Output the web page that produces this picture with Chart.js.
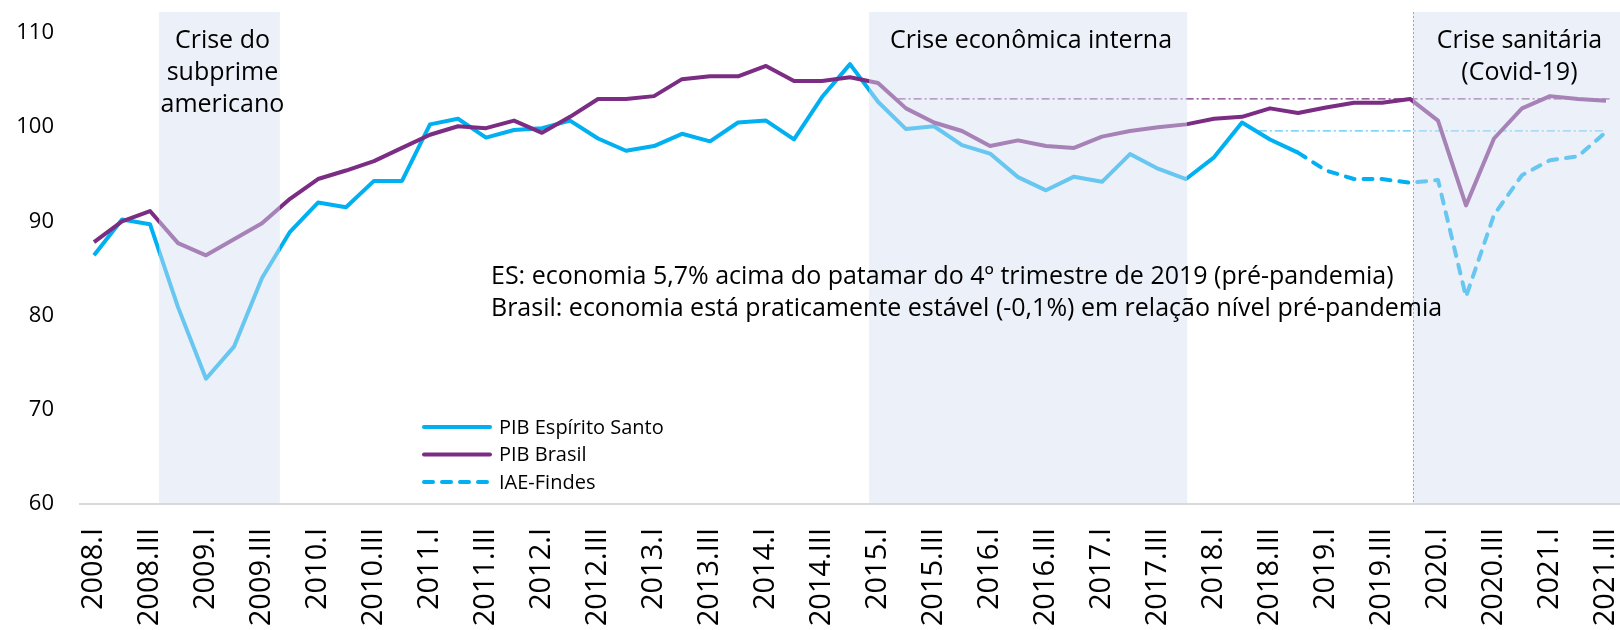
<!DOCTYPE html>
<html><head><meta charset="utf-8">
<script src="https://cdn.jsdelivr.net/npm/chart.js@4"></script>
<style>html,body{margin:0;padding:0;background:#fff;}canvas{display:block;}</style>
</head><body>
<canvas id="c" width="1620" height="630"></canvas>
<script>
const categories = [
 '2008.I','2008.II','2008.III','2008.IV','2009.I','2009.II','2009.III','2009.IV',
 '2010.I','2010.II','2010.III','2010.IV','2011.I','2011.II','2011.III','2011.IV',
 '2012.I','2012.II','2012.III','2012.IV','2013.I','2013.II','2013.III','2013.IV',
 '2014.I','2014.II','2014.III','2014.IV','2015.I','2015.II','2015.III','2015.IV',
 '2016.I','2016.II','2016.III','2016.IV','2017.I','2017.II','2017.III','2017.IV',
 '2018.I','2018.II','2018.III','2018.IV','2019.I','2019.II','2019.III','2019.IV',
 '2020.I','2020.II','2020.III','2020.IV','2021.I','2021.II','2021.III'
];
const pibBrasil = [87.8,90.0,91.1,87.7,86.4,88.1,89.8,92.4,94.5,95.4,
 96.4,97.8,99.2,100.1,99.9,100.7,99.4,101.1,103.0,103.0,
 103.3,105.1,105.4,105.4,106.5,104.9,104.9,105.3,104.7,102.0,
 100.5,99.6,98.0,98.6,98.0,97.8,99.0,99.6,100.0,100.3,
 100.9,101.1,102.0,101.5,102.1,102.6,102.6,103.0,100.7,91.7,
 98.8,102.0,103.3,103.0,102.8];
const pibES = [86.4,90.2,89.7,80.9,73.3,76.7,84.0,88.9,92.0,91.5,
 94.3,94.3,100.3,100.9,98.9,99.7,99.9,100.7,98.8,97.5,
 98.0,99.3,98.5,100.5,100.7,98.7,103.2,106.7,102.7,99.8,
 100.1,98.1,97.2,94.7,93.3,94.75,94.2,97.15,95.6,94.5,
 96.8,100.5,98.7,97.3,null,null,null,null,null,null,
 null,null,null,null,null];
const iaeFindes = [null,null,null,null,null,null,null,null,null,null,
 null,null,null,null,null,null,null,null,null,null,
 null,null,null,null,null,null,null,null,null,null,
 null,null,null,null,null,null,null,null,null,null,
 null,null,null,97.3,95.4,94.5,94.5,94.1,94.4,82.0,
 90.7,94.9,96.5,96.9,99.5];
const yTicks = [60,70,80,90,100,110];
const crisisBands = [
  {from:2.32, to:6.64, label:['Crise do','subprime','americano']},
  {from:27.68, to:39.04, label:['Crise econômica interna']},
  {from:47.1, to:54.5, label:['Crise sanitária','(Covid-19)']}
];
const refBrasil = {value:103.0, from:28.7, to:54.2};
const refES = {value:99.6, from:41.6, to:54.0};
const pandemicMark = 47.1;
const noteLines = [
  'ES: economia 5,7% acima do patamar do 4º trimestre de 2019 (pré-pandemia)',
  'Brasil: economia está praticamente estável (-0,1%) em relação nível pré-pandemia'
];

const CYAN = '#00B0F0', PURPLE = '#7B2C83';
const FONT = "'Open Sans', sans-serif";
Chart.defaults.font.family = FONT;
Chart.defaults.color = '#000';

const overlayPlugin = {
  id: 'overlay',
  beforeDatasetsDraw(chart) {
    const {ctx, scales:{x, y}} = chart;
    ctx.save();
    ctx.lineWidth = 1.3;
    ctx.setLineDash([8,3,2,3]);
    ctx.strokeStyle = PURPLE;
    let yy = y.getPixelForValue(refBrasil.value);
    ctx.beginPath(); ctx.moveTo(x.getPixelForValue(refBrasil.from), yy); ctx.lineTo(x.getPixelForValue(refBrasil.to), yy); ctx.stroke();
    ctx.strokeStyle = '#55C6F2';
    yy = y.getPixelForValue(refES.value);
    ctx.beginPath(); ctx.moveTo(x.getPixelForValue(refES.from), yy); ctx.lineTo(x.getPixelForValue(refES.to), yy); ctx.stroke();
    ctx.restore();
  },
  afterDatasetsDraw(chart) {
    const {ctx, chartArea:ca, scales:{x, y}} = chart;
    ctx.save();
    ctx.fillStyle = 'rgba(215,224,240,0.48)';
    crisisBands.forEach(b => {
      const x0 = x.getPixelForValue(b.from), x1 = x.getPixelForValue(b.to);
      ctx.fillRect(x0, ca.top, x1 - x0, ca.bottom - 1 - ca.top);
    });
    ctx.strokeStyle = '#A6A6A6'; ctx.lineWidth = 1; ctx.setLineDash([2,2]);
    const px = Math.round(x.getPixelForValue(pandemicMark)) + 0.5;
    ctx.beginPath(); ctx.moveTo(px, ca.top); ctx.lineTo(px, ca.bottom - 1); ctx.stroke();
    ctx.setLineDash([]);
    ctx.fillStyle = '#000';
    ctx.font = '25px ' + FONT;
    ctx.textAlign = 'center'; ctx.textBaseline = 'alphabetic';
    crisisBands.forEach(b => {
      const cx = (x.getPixelForValue(b.from) + x.getPixelForValue(b.to)) / 2 + 3;
      b.label.forEach((t, i) => ctx.fillText(t, cx, 48 + i * 32));
    });
    ctx.font = '25px ' + FONT;
    ctx.textAlign = 'left';
    noteLines.forEach((t, i) => ctx.fillText(t, 491, 284 + i * 32));
    const items = [
      {t:'PIB Espírito Santo', c:CYAN, d:[]},
      {t:'PIB Brasil', c:PURPLE, d:[]},
      {t:'IAE-Findes', c:CYAN, d:[9,9]}
    ];
    ctx.font = '20px ' + FONT;
    ctx.textBaseline = 'middle';
    items.forEach((it, i) => {
      const ly = 427 + i * 27.5;
      ctx.strokeStyle = it.c; ctx.lineWidth = 4; ctx.lineCap = 'round';
      ctx.setLineDash(it.d);
      ctx.beginPath(); ctx.moveTo(424, ly); ctx.lineTo(490, ly); ctx.stroke();
      ctx.setLineDash([]);
      ctx.fillText(it.t, 499, ly + 1);
    });
    ctx.restore();
  }
};

function zeroPad(s) { s.paddingLeft = 0; s.paddingRight = 0; s.paddingTop = 0; s.paddingBottom = 0; }

new Chart(document.getElementById('c'), {
  type: 'line',
  data: {
    labels: categories,
    datasets: [
      {label:'PIB Brasil', data:pibBrasil, borderColor:PURPLE, borderWidth:4, pointRadius:0, tension:0, order:1, borderJoinStyle:'round'},
      {label:'PIB Espírito Santo', data:pibES, borderColor:CYAN, borderWidth:4, pointRadius:0, tension:0, order:2, borderJoinStyle:'round'},
      {label:'IAE-Findes', data:iaeFindes, borderColor:CYAN, borderWidth:4, borderDash:[9,9], borderCapStyle:'round', pointRadius:0, tension:0, order:3, borderJoinStyle:'round'}
    ]
  },
  options: {
    responsive: false,
    animation: false,
    layout: {padding: {top: 12, right: 0, left: 0, bottom: 0}},
    plugins: {legend: {display: false}, tooltip: {enabled: false}},
    scales: {
      x: {
        offset: true,
        grid: {display: false, drawTicks: false},
        border: {display: true, color: '#D9D9D9', width: 2},
        ticks: {
          autoSkip: false, maxRotation: 90, minRotation: 90, padding: 24,
          font: {size: 29}, color: '#000',
          callback: (v, i) => (i % 2 === 0 ? categories[i] : '')
        },
        afterFit: s => { s.height = 126; zeroPad(s); }
      },
      y: {
        min: 60, max: 112.23,
        grid: {display: false, drawTicks: false},
        border: {display: false},
        afterBuildTicks: s => { s.ticks = yTicks.map(v => ({value: v})); },
        ticks: {padding: 26, font: {size: 22}, color: '#000'},
        afterFit: s => { s.width = 80; zeroPad(s); }
      }
    }
  },
  plugins: [overlayPlugin]
});
</script>
</body></html>
